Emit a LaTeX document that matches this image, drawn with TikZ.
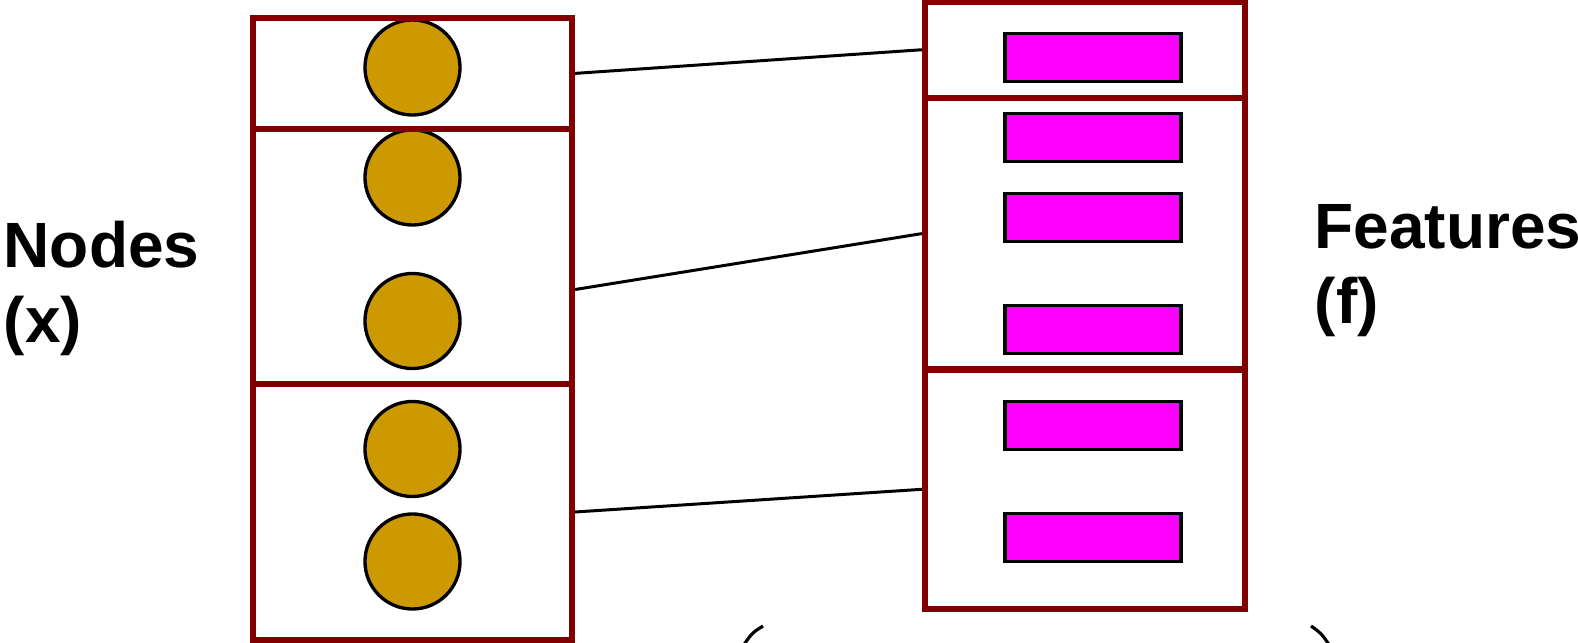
\documentclass[tikz,border=0pt]{standalone}
\usepackage{fontspec}
\setmainfont{Liberation Sans}
\usetikzlibrary{positioning, calc}
\definecolor{GroupRed}{HTML}{800000}
\definecolor{NodeGold}{HTML}{CC9900}
\definecolor{FeatPink}{HTML}{FF00FF}

\begin{document}
\begin{tikzpicture}[
        x=0.01cm, y=-0.01cm,
        grp/.style={draw=GroupRed, line width=1.7pt, minimum width=3.19cm, inner sep=0pt},
        dot/.style={circle, draw, line width=0.95pt, fill=NodeGold, minimum size=0.95cm, inner sep=0pt},
        feat/.style={rectangle, draw, line width=0.95pt, fill=FeatPink, minimum width=1.76cm,
                     minimum height=0.48cm, inner sep=0pt},
        lbl/.style={anchor=north west, inner sep=0pt, align=left,
                    font=\fontsize{18.2}{21.5}\selectfont\bfseries},
        link/.style={line width=0.85pt},
      ]
        \useasboundingbox (0,0) rectangle (1578,643);
        % Knoten (links)
        \node[dot] (x1) at (412.5,67.5) {};
        \node[dot] (x2) at (412.5,177.5) {};
        \node[dot] (x3) at (412.5,321) {};
        \node[dot] (x4) at (412.5,449) {};
        \node[dot] (x5) at (412.5,561.5) {};
        \node[grp, minimum height=1.113cm] (l1) at (412.5,73.4) {};
        \node[grp, minimum height=2.55cm] (l2) at (412.5,256.5) {};
        \node[grp, minimum height=2.56cm] (l3) at (412.5,512) {};
        % Merkmale (rechts)
        \node[feat] (f1) at (1093,57.5) {};
        \node[feat] (f2) at (1093,137.5) {};
        \node[feat] (f3) at (1093,217.5) {};
        \node[feat] (f4) at (1093,329.7) {};
        \node[feat] (f5) at (1093,425.2) {};
        \node[feat] (f6) at (1093,537.7) {};
        \node[grp, minimum width=3.2cm, minimum height=0.955cm] (r1) at (1085,49.75) {};
        \node[grp, minimum width=3.2cm, minimum height=2.72cm] (r2) at (1085,233.6) {};
        \node[grp, minimum width=3.2cm, minimum height=2.4cm] (r3) at (1085,489.3) {};
        % Zuordnung
        \draw[link] (l1.east) -- (r1.west);
        \draw[link] ([yshift=-0.33cm]l2.east) -- (r2.west);
        \draw[link] (l3.east) -- (r3.west);
        % Beschriftung
        \node[lbl] (nodes) at (3,220) {Nodes\\(x)};
        \node[lbl] (feats) at (1314,203.5) {Features\\(f)};
        % Klammern unten
        \draw[line width=0.9pt] (763,626) .. controls (752,633) .. (743,646);
        \draw[line width=0.9pt] (1311,626) .. controls (1321,633) .. (1330,646);
      \end{tikzpicture}
\end{document}
